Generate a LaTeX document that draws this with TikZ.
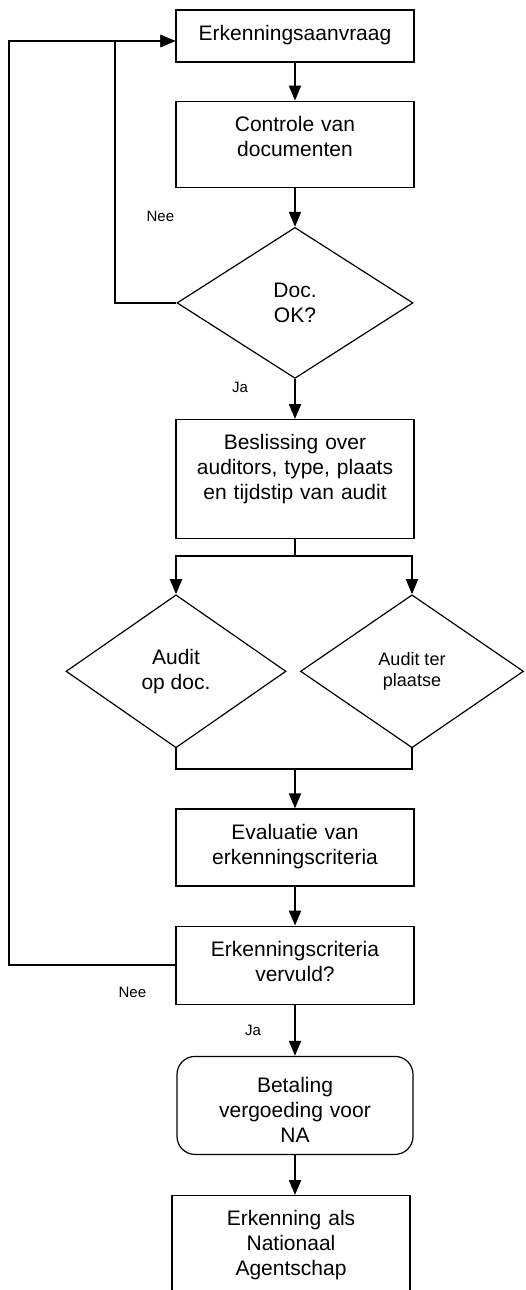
\documentclass[tikz,border=0pt]{standalone}
\usepackage{fontspec}
\setmainfont{Liberation Sans}
\usetikzlibrary{arrows.meta,positioning,shapes.geometric}
\tikzset{
	box/.style={rectangle,draw=black,line width=0.6pt,text width=112pt,inner xsep=3.5pt,inner ysep=7pt,text height=8pt,align=center,font=\fontsize{10.5}{12.5}\selectfont},
	decision/.style={diamond,draw=black,line width=0.6pt,inner sep=0pt,align=center,font=\fontsize{10.5}{12.5}\selectfont},
	lbl/.style={font=\fontsize{7.5}{9}\selectfont,inner sep=0pt},
	link/.style={-{Triangle[width=6pt,length=7.5pt]},line width=1pt},
	wire/.style={line width=1pt}
}

\begin{document}
\begin{tikzpicture}
	\useasboundingbox (0,0) rectangle (262.5pt,-645pt);
	\node[box,text depth=4pt] (aanvraag) at (147.5pt,-18pt) {Erkenningsaanvraag};
	\node[box,text depth=21pt,below=19pt of aanvraag] (controle) {Controle van\\documenten};
	\node[decision,minimum width=118pt,minimum height=75.5pt,below=19.5pt of controle] (docok) {Doc.\\OK?};
	\node[box,text depth=37.5pt,below=20pt of docok] (beslissing) {Beslissing over\\auditors, type, plaats\\en tijdstip van audit};
	\node[decision,minimum width=110pt,minimum height=76.5pt,below=27.5pt of beslissing,xshift=-59.5pt] (opdoc) {Audit\\op doc.};
	\node[decision,minimum width=111.5pt,minimum height=76.5pt,below=27.5pt of beslissing,xshift=58.5pt,font=\fontsize{9}{10.5}\selectfont] (terplaatse) {Audit ter\\plaatse};

	\draw[wire] (opdoc.south) -- ++(0,-10.5pt) coordinate (samenL) -| (terplaatse.south);
	\coordinate (samen) at (samenL -| beslissing.south);

	\node[box,text depth=16.5pt,below=19.5pt of samen] (evaluatie) {Evaluatie van\\erkenningscriteria};
	\node[box,text depth=17pt,below=19.5pt of evaluatie] (vervuld) {Erkenningscriteria\\vervuld?};
	\node[box,rounded corners=9pt,text width=111pt,text height=11pt,text depth=24pt,below=25.5pt of vervuld] (betaling) {Betaling\\vergoeding voor\\NA};
	\node[box,text depth=38pt,below=20pt of betaling,xshift=-2pt] (erkenning) {Erkenning als\\Nationaal\\Agentschap};

	% labels
	\node[lbl] (nee1) at ([shift={(-7.5pt,-14.5pt)}]controle.south west) {Nee};
	\node[lbl] (ja1) at ([shift={(-27.5pt,-4pt)}]docok.south) {Ja};
	\node[lbl] (nee2) at ([shift={(-21.5pt,6pt)}]vervuld.south west) {Nee};
	\node[lbl] (ja2) at ([shift={(-21pt,-13pt)}]vervuld.south) {Ja};

	\draw[link] (aanvraag) -- (controle);
	\draw[link] (controle) -- (docok);
	\draw[link] (docok) -- (beslissing);
	\draw[wire] (beslissing.south) -- ++(0,-8.5pt) coordinate (splits);
	\draw[link] (splits) -| (opdoc.north);
	\draw[link] (splits) -| (terplaatse.north);
	\draw[link] (samen) -- (evaluatie);
	\draw[link] (evaluatie) -- (vervuld);
	\draw[link] (vervuld) -- (betaling);
	\draw[link] (betaling.south) -- (betaling.south |- erkenning.north);
	\draw[link] (docok.west) -- ++(-30.5pt,0) |- ([yshift=-2.5pt]aanvraag.west);
	\draw[link] (vervuld.west) -- ++(-83pt,0) |- ([yshift=-2.5pt]aanvraag.west);
\end{tikzpicture}
\end{document}
